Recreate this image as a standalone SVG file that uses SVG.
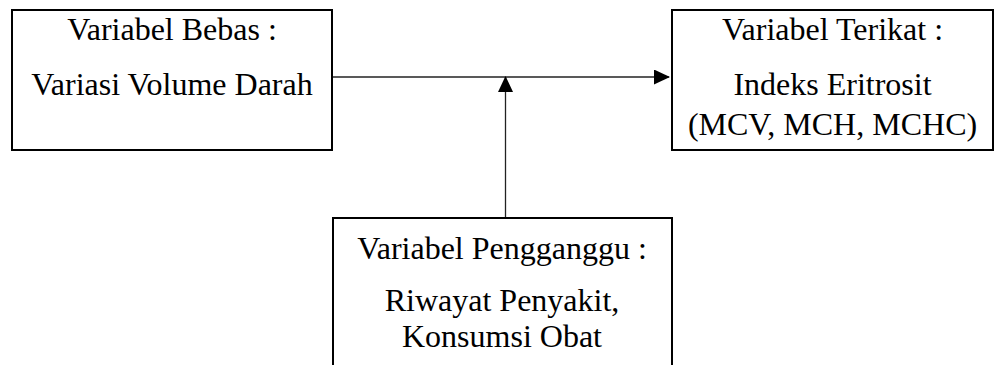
<svg xmlns="http://www.w3.org/2000/svg" width="1000" height="365" viewBox="0 0 1000 365">
<style>
.box{fill:#fff;stroke:#000;stroke-width:2}
.t{font-family:"Liberation Serif","Times New Roman",serif;font-size:32px;fill:#000;text-anchor:middle}
.c{stroke:#222;stroke-width:1.3;fill:none}
</style>
<defs>
<marker id="ah" markerWidth="16" markerHeight="15" refX="15" refY="7.5" orient="auto" markerUnits="userSpaceOnUse">
<path d="M0,0 L16,7.5 L0,15 Z" fill="#000"/>
</marker>
</defs>
<rect width="1000" height="365" fill="#fff"/>
<g id="connectors">
<line class="c" x1="333" y1="77" x2="669" y2="77" marker-end="url(#ah)"/>
<line class="c" x1="505.5" y1="218" x2="505.5" y2="77" marker-end="url(#ah)"/>
</g>
<g id="bebas">
<rect class="box" x="12" y="10" width="320" height="140"/>
<text class="t" x="172" y="40">Variabel Bebas :</text>
<text class="t" x="172" y="95">Variasi Volume Darah</text>
</g>
<g id="terikat">
<rect class="box" x="672" y="10" width="321" height="140"/>
<text class="t" x="832.5" y="40">Variabel Terikat :</text>
<text class="t" x="832.5" y="95">Indeks Eritrosit</text>
<text class="t" x="832.5" y="135">(MCV, MCH, MCHC)</text>
</g>
<g id="pengganggu">
<rect class="box" x="333" y="218" width="339" height="160"/>
<text class="t" x="502" y="259">Variabel Pengganggu :</text>
<text class="t" x="502" y="311">Riwayat Penyakit,</text>
<text class="t" x="502" y="347">Konsumsi Obat</text>
</g>
</svg>
